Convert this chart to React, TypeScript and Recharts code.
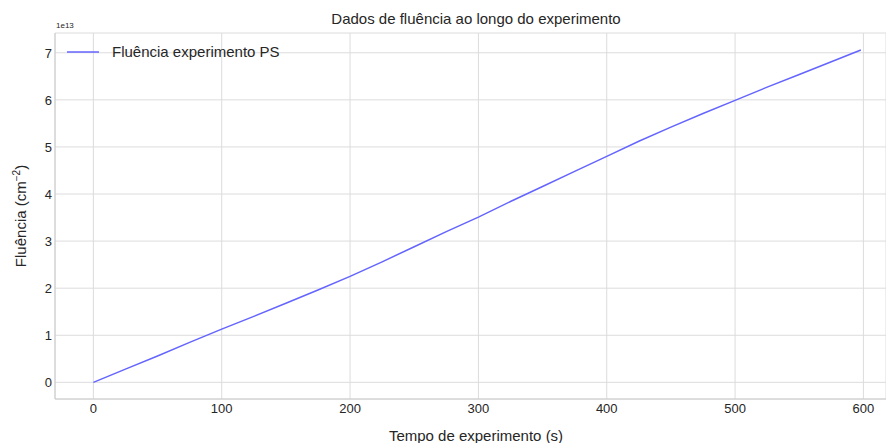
import React from 'react'
import { LineChart, Line, XAxis, YAxis, CartesianGrid } from 'recharts'

// tempo (s) e fluência acumulada (cm^-2)
const tempo = [0, 25, 50, 75, 100, 125, 150, 175, 200, 225, 250, 275, 300, 325, 350, 375, 400, 425, 450, 475, 500, 525, 550, 575, 598]
const fluencia = [0, 0.28e13, 0.56e13, 0.85e13, 1.13e13, 1.4e13, 1.68e13, 1.96e13, 2.25e13, 2.56e13, 2.88e13, 3.2e13, 3.51e13, 3.84e13, 4.16e13, 4.48e13, 4.8e13, 5.12e13, 5.42e13, 5.71e13, 5.99e13, 6.27e13, 6.54e13, 6.81e13, 7.06e13]

const xTicks = [0, 100, 200, 300, 400, 500, 600]
const yTicks = [0, 1e13, 2e13, 3e13, 4e13, 5e13, 6e13, 7e13]

const FONT = '"Liberation Sans", Arial, sans-serif'
const TEXT = '#262626'
const GRID = '#dcdcdc'
const SPINE = '#cccccc'
const LINE = '#6464ff'

const data = tempo.map((t, i) => ({ t, f: fluencia[i] }))

const XTick = (props: any) => {
  const { x, y, payload } = props
  return (
    <text x={x} y={y + 14} textAnchor="middle" fontSize={13} fill={TEXT} fontFamily={FONT}>
      {payload.value}
    </text>
  )
}

const YTick = (props: any) => {
  const { x, y, payload } = props
  return (
    <text x={x - 3} y={y + 5} textAnchor="end" fontSize={13} fill={TEXT} fontFamily={FONT}>
      {payload.value / 1e13}
    </text>
  )
}

// legenda no canto superior esquerdo do eixo
const LegendBox = () => (
  <div style={{ position: 'absolute', left: 67, top: 43, display: 'flex', alignItems: 'center', fontSize: 15, whiteSpace: 'nowrap', zIndex: 2 }}>
    <svg width={32} height={4} style={{ marginRight: 13 }}>
      <line x1={0} y1={2} x2={32} y2={2} stroke={LINE} strokeWidth={1.5} />
    </svg>
    <span>Fluência experimento PS</span>
  </div>
)

export default function App() {
  return (
    <div style={{ position: 'absolute', left: 0, top: 0, width: 886, height: 443, background: '#fff', overflow: 'hidden', fontFamily: FONT, color: TEXT }}>
      <div style={{ position: 'absolute', left: 476, top: 10, transform: 'translateX(-50%)', fontSize: 15, whiteSpace: 'nowrap' }}>
        Dados de fluência ao longo do experimento
      </div>
      <div style={{ position: 'absolute', left: 56, top: 21, fontSize: 8, whiteSpace: 'nowrap' }}>1e13</div>
      <div style={{ position: 'absolute', left: 20, top: 216, transform: 'translate(-50%, -50%) rotate(-90deg)', fontSize: 15, whiteSpace: 'nowrap' }}>
        Fluência (cm<sup style={{ fontSize: 10 }}>−2</sup>)
      </div>
      <div style={{ position: 'absolute', left: 476, top: 427, transform: 'translateX(-50%)', fontSize: 15, whiteSpace: 'nowrap' }}>
        Tempo de experimento (s)
      </div>
      <LineChart width={886} height={443} data={data} margin={{ top: 33, right: 0, bottom: 0, left: 0 }}>
        <CartesianGrid stroke={GRID} strokeWidth={1} />
        <XAxis
          dataKey="t"
          type="number"
          domain={[-29.9, 617.6]}
          ticks={xTicks}
          height={44}
          tickLine={false}
          tickSize={0}
          tickMargin={0}
          axisLine={{ stroke: SPINE }}
          tick={<XTick />}
          allowDataOverflow
        />
        <XAxis xAxisId="top" orientation="top" type="number" domain={[-29.9, 617.6]} height={0} tick={false} tickLine={false} axisLine={{ stroke: SPINE }} />
        <YAxis
          type="number"
          domain={[-0.354e13, 7.42e13]}
          ticks={yTicks}
          width={55}
          tickLine={false}
          tickSize={0}
          tickMargin={0}
          axisLine={{ stroke: SPINE }}
          tick={<YTick />}
          allowDataOverflow
        />
        <Line dataKey="f" stroke={LINE} strokeWidth={1.5} dot={false} isAnimationActive={false} />
      </LineChart>
      <LegendBox />
    </div>
  )
}
